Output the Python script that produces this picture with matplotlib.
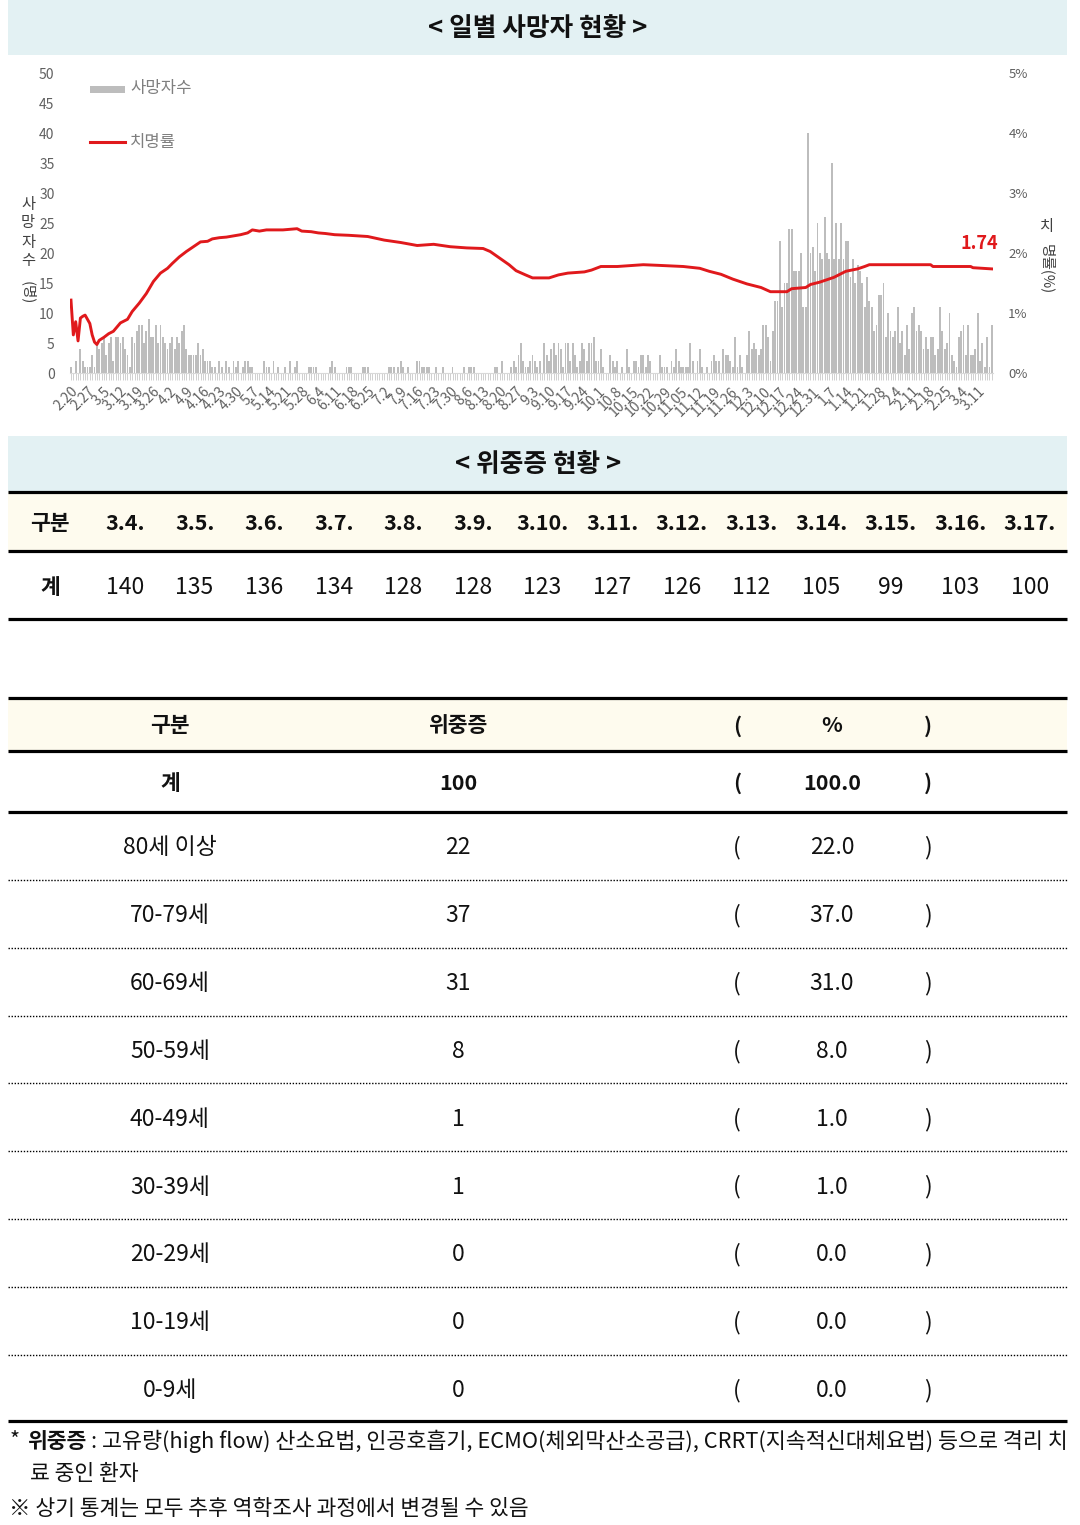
import matplotlib
matplotlib.use("Agg")
import matplotlib.pyplot as plt
import numpy as np
import pandas as pd
from matplotlib.patches import Rectangle

plt.rcParams['font.family'] = ['Noto Sans CJK KR', 'DejaVu Sans']

# ---------------- data: daily deaths ----------------
deaths_2020_02 = [1, 0, 2, 0, 4, 2, 1, 1, 1, 3]
deaths_2020_03 = [1, 5, 4, 5, 6, 3, 5, 6, 2, 6, 6, 5, 6, 4, 3, 1, 6, 5, 7, 8,
                  8, 5, 7, 9, 6, 6, 8, 5, 8, 6, 5]
deaths_2020_04 = [4, 5, 6, 4, 6, 5, 7, 8, 4, 3, 3, 3, 3, 5, 3, 4, 2, 2, 2, 1,
                  1, 0, 2, 1, 0, 2, 1, 0, 2, 1]
deaths_2020_05 = [2, 0, 1, 2, 2, 1, 1, 0, 0, 0, 0, 2, 1, 1, 0, 2, 0, 1, 0, 0,
                  1, 0, 2, 0, 1, 2, 0, 0, 0, 0, 1]
deaths_2020_06 = [1, 1, 1, 0, 0, 0, 0, 0, 1, 2, 1, 0, 0, 0, 0, 1, 1, 1, 0, 0,
                  0, 0, 1, 1, 1, 0, 0, 0, 0, 0]
deaths_2020_07 = [0, 0, 0, 1, 1, 1, 0, 1, 2, 1, 0, 1, 0, 0, 0, 2, 2, 1, 1, 1,
                  1, 0, 0, 1, 0, 0, 1, 0, 0, 0, 1]
deaths_2020_08 = [0, 0, 0, 0, 1, 0, 1, 1, 1, 0, 0, 0, 0, 0, 0, 0, 0, 1, 1, 0,
                  2, 0, 0, 0, 1, 2, 1, 3, 5, 2, 1]
deaths_2020_09 = [1, 2, 3, 2, 1, 2, 0, 5, 3, 2, 4, 5, 3, 5, 4, 1, 5, 5, 2, 5,
                  3, 1, 2, 5, 4, 2, 5, 5, 6, 2]
deaths_2020_10 = [2, 4, 1, 0, 0, 3, 2, 1, 2, 0, 1, 0, 4, 1, 0, 2, 2, 1, 3, 3,
                  1, 3, 2, 0, 0, 0, 3, 1, 1, 1, 0]
deaths_2020_11 = [2, 1, 4, 2, 1, 1, 1, 1, 5, 2, 0, 2, 4, 1, 0, 1, 0, 2, 3, 2,
                  2, 0, 4, 3, 3, 2, 1, 6, 1, 3]
deaths_2020_12 = [1, 0, 3, 7, 4, 5, 4, 3, 4, 8, 8, 6, 2, 7, 12, 12, 22, 11, 15, 15,
                  24, 24, 17, 17, 17, 20, 11, 11, 40, 20, 21]
deaths_2021_01 = [17, 25, 20, 19, 26, 20, 19, 35, 19, 25, 19, 25, 19, 22, 22, 16, 19, 15, 18, 17,
                  15, 11, 16, 12, 11, 7, 8, 13, 13, 15, 6]
deaths_2021_02 = [10, 7, 6, 7, 11, 5, 7, 3, 8, 4, 10, 11, 7, 8, 7, 4, 6, 4, 6, 6,
                  3, 4, 11, 7, 4, 5, 10, 3]
deaths_2021_03 = [2, 1, 6, 7, 8, 3, 8, 3, 3, 4, 10, 2, 5, 1, 6, 1, 8]

first_day = "2020-02-20"
last_day = "2021-03-17"

# fatality rate (%) read at these dates
cfr_dates = ["2020-02-20", "2020-02-21", "2020-02-22", "2020-02-23", "2020-02-24", "2020-02-25",
             "2020-02-26", "2020-02-27", "2020-02-28", "2020-02-29", "2020-03-01", "2020-03-02",
             "2020-03-03", "2020-03-05", "2020-03-07", "2020-03-09", "2020-03-12", "2020-03-15",
             "2020-03-17", "2020-03-20", "2020-03-23", "2020-03-26", "2020-03-29", "2020-04-01",
             "2020-04-03", "2020-04-06", "2020-04-09", "2020-04-12", "2020-04-15", "2020-04-18",
             "2020-04-20", "2020-04-23", "2020-04-26", "2020-04-29", "2020-05-02", "2020-05-05",
             "2020-05-07", "2020-05-10", "2020-05-13", "2020-05-20", "2020-05-26", "2020-05-28",
             "2020-06-01", "2020-06-04", "2020-06-07", "2020-06-11", "2020-06-17", "2020-06-25",
             "2020-07-02", "2020-07-09", "2020-07-16", "2020-07-23", "2020-07-30", "2020-08-06",
             "2020-08-13", "2020-08-16", "2020-08-20", "2020-08-24", "2020-08-27", "2020-08-31",
             "2020-09-03", "2020-09-10", "2020-09-14", "2020-09-18", "2020-09-25", "2020-09-28",
             "2020-10-02", "2020-10-09", "2020-10-20", "2020-10-26", "2020-11-06", "2020-11-13",
             "2020-11-17", "2020-11-22", "2020-11-27", "2020-12-03", "2020-12-09", "2020-12-13",
             "2020-12-20", "2020-12-22", "2020-12-28", "2020-12-30", "2021-01-03", "2021-01-09",
             "2021-01-14", "2021-01-19", "2021-01-22", "2021-01-24", "2021-02-19", "2021-02-20",
             "2021-03-08", "2021-03-09", "2021-03-17"]
cfr_pct = [1.22, 0.64, 0.86, 0.54, 0.92, 0.95, 0.97, 0.90, 0.83, 0.64, 0.52, 0.48,
           0.55, 0.60, 0.66, 0.70, 0.84, 0.90, 1.03, 1.17, 1.33, 1.53, 1.67, 1.75,
           1.83, 1.94, 2.03, 2.11, 2.19, 2.20, 2.24, 2.26, 2.27, 2.29, 2.31, 2.34,
           2.39, 2.37, 2.39, 2.39, 2.41, 2.37, 2.36, 2.34, 2.33, 2.31, 2.30, 2.28,
           2.22, 2.18, 2.13, 2.15, 2.11, 2.09, 2.08, 2.03, 1.92, 1.81, 1.71, 1.64,
           1.59, 1.59, 1.64, 1.67, 1.69, 1.72, 1.78, 1.78, 1.81, 1.80, 1.78, 1.75,
           1.70, 1.65, 1.57, 1.49, 1.43, 1.36, 1.36, 1.41, 1.43, 1.48, 1.52, 1.60,
           1.70, 1.74, 1.78, 1.81, 1.81, 1.78, 1.78, 1.76, 1.74]

x_tick_labels = ['2.20', '2.27', '3.5', '3.12', '3.19', '3.26', '4.2', '4.9', '4.16', '4.23',
                 '4.30', '5.7', '5.14', '5.21', '5.28', '6.4', '6.11', '6.18', '6.25', '7.2',
                 '7.9', '7.16', '7.23', '7.30', '8.6', '8.13', '8.20', '8.27', '9.3', '9.10',
                 '9.17', '9.24', '10.1', '10.8', '10.15', '10.22', '10.29', '11.05', '11.12',
                 '11.19', '11.26', '12.3', '12.10', '12.17', '12.24', '12.31', '1.7', '1.14',
                 '1.21', '1.28', '2.4', '2.11', '2.18', '2.25', '3.4', '3.11']
left_ticks = [0, 5, 10, 15, 20, 25, 30, 35, 40, 45, 50]
right_ticks = [0, 1, 2, 3, 4, 5]

# severe cases tables
severe_dates = ['3.4.', '3.5.', '3.6.', '3.7.', '3.8.', '3.9.', '3.10.', '3.11.', '3.12.',
                '3.13.', '3.14.', '3.15.', '3.16.', '3.17.']
severe_counts = [140, 135, 136, 134, 128, 128, 123, 127, 126, 112, 105, 99, 103, 100]
severe_total = 100
severe_total_pct = 100.0
age_groups = ['80세 이상', '70-79세', '60-69세', '50-59세', '40-49세', '30-39세',
              '20-29세', '10-19세', '0-9세']
age_counts = [22, 37, 31, 8, 1, 1, 0, 0, 0]
age_pcts = [22.0, 37.0, 31.0, 8.0, 1.0, 1.0, 0.0, 0.0, 0.0]

# ---------------- figure ----------------
W, H = 1080, 1525
fig = plt.figure(figsize=(W / 100, H / 100), dpi=100)
bg = fig.add_axes([0, 0, 1, 1])
bg.set_xlim(0, W)
bg.set_ylim(H, 0)
bg.axis('off')

BAND = '#e3f1f3'
CREAM = '#fefbee'
TXT = '#111111'
RED = '#e0191c'
TICKC = '#606060'
REG = 16.5   # regular table text
BLD = 15.5   # bold table text
DY = 2       # small vertical nudge for CJK text


def frac_rect(x0, y0, x1, y1):
    return [x0 / W, 1 - y1 / H, (x1 - x0) / W, (y1 - y0) / H]


# title bands
bg.add_patch(Rectangle((8, 0), 1059, 55, color=BAND, lw=0, zorder=0))
bg.text(538, 27 + DY, '< 일별 사망자 현황 >', ha='center', va='center', fontsize=18.5,
        fontweight='bold', color=TXT)
bg.add_patch(Rectangle((8, 436), 1059, 55, color=BAND, lw=0, zorder=0))
bg.text(538, 463 + DY, '< 위중증 현황 >', ha='center', va='center', fontsize=18.5,
        fontweight='bold', color=TXT)

# ---------------- chart ----------------
deaths = np.array(deaths_2020_02 + deaths_2020_03 + deaths_2020_04 + deaths_2020_05 +
                  deaths_2020_06 + deaths_2020_07 + deaths_2020_08 + deaths_2020_09 +
                  deaths_2020_10 + deaths_2020_11 + deaths_2020_12 + deaths_2021_01 +
                  deaths_2021_02 + deaths_2021_03)
days = pd.date_range(first_day, last_day, freq='D')
assert len(days) == len(deaths)
start = pd.Timestamp(first_day)
day_idx = np.arange(len(days))
cfr_x = np.array((pd.to_datetime(cfr_dates) - start).days)

ax = fig.add_axes(frac_rect(69.8, 73.3, 993.0, 373.3))
ax.patch.set_alpha(0)
ax.bar(day_idx, deaths, width=0.78, color='#bdbdbd', linewidth=0, zorder=2)
ax.set_xlim(-0.5, len(days) - 0.5)
ax.set_ylim(left_ticks[0], left_ticks[-1])
ax.set_yticks(left_ticks)
ax.set_yticklabels([str(v) for v in left_ticks])
for s in ['top', 'left', 'right']:
    ax.spines[s].set_visible(False)
ax.spines['bottom'].set_color('#d9d9d9')
ax.spines['bottom'].set_linewidth(0.8)
ax.set_xticks(day_idx[::7][:len(x_tick_labels)])
ax.set_xticklabels(x_tick_labels)
ax.set_xticks(day_idx, minor=True)
ax.tick_params(axis='x', which='both', direction='out', length=5, width=0.7, color='#d0d0d0')
ax.tick_params(axis='x', which='major', pad=3, labelsize=10, labelcolor=TICKC)
for lab in ax.get_xticklabels():
    lab.set_rotation(45)
    lab.set_ha('right')
    lab.set_va('top')
    lab.set_rotation_mode('anchor')
ax.tick_params(axis='y', length=0, pad=11, labelsize=10, labelcolor=TICKC)

ax2 = ax.twinx()
ax2.patch.set_alpha(0)
ax2.set_ylim(right_ticks[0], right_ticks[-1])
ax2.set_yticks(right_ticks)
ax2.set_yticklabels([f'{v}%' for v in right_ticks])
for s in ['top', 'left', 'right', 'bottom']:
    ax2.spines[s].set_visible(False)
ax2.tick_params(axis='y', length=0, pad=11, labelsize=9.5, labelcolor=TICKC)
ax2.plot(cfr_x, cfr_pct, color=RED, lw=2.1, solid_joinstyle='round', zorder=5)
ax2.annotate(f'{cfr_pct[-1]:.2f}', xy=(cfr_x[-1], cfr_pct[-1]), xytext=(-9, 18),
             textcoords='offset points', ha='center', va='center', fontsize=13,
             fontweight='bold', color=RED)

# legend
bg.add_patch(Rectangle((90, 85.5), 35, 7, color='#bdbdbd', lw=0))
bg.text(130, 89, '사망자수', ha='left', va='center', fontsize=12, color='#7f7f7f')
bg.plot([90, 125], [142, 142], color=RED, lw=2.2)
bg.text(130, 142, '치명률', ha='left', va='center', fontsize=12, color='#7f7f7f')

# axis titles (stacked vertical text)
for ch, yy in zip('사망자수', [204, 223, 242, 261]):
    bg.text(28, yy, ch, ha='center', va='center', fontsize=11, color='#404040')
bg.text(28, 293, '(명)', ha='center', va='center', fontsize=10.5, rotation=-90, color='#404040')
bg.text(1047, 226, '치', ha='center', va='center', fontsize=11, color='#404040')
bg.text(1047, 269, '명률(%)', ha='center', va='center', fontsize=10.5, rotation=-90,
        color='#404040')

# ---------------- table 1 ----------------
THICK = 2.3
bg.add_patch(Rectangle((8, 492), 1059, 59, color=CREAM, lw=0, zorder=0))
for yy in [492, 551, 619]:
    bg.plot([8, 1067], [yy, yy], color='black', lw=THICK, solid_capstyle='butt')
bg.text(50, 522 + DY, '구분', ha='center', va='center', fontsize=BLD, fontweight='bold', color=TXT)
bg.text(50, 586 + DY, '계', ha='center', va='center', fontsize=BLD, fontweight='bold', color=TXT)
for i, (d, c) in enumerate(zip(severe_dates, severe_counts)):
    cx = 125 + i * 69.6
    bg.text(cx, 522 + DY, d, ha='center', va='center', fontsize=BLD, fontweight='bold', color=TXT)
    bg.text(cx, 586 + DY, str(c), ha='center', va='center', fontsize=REG, color=TXT)

# ---------------- table 2 ----------------
cols = [170, 458, 737, 832, 928]
bg.add_patch(Rectangle((8, 698), 1059, 53, color=CREAM, lw=0, zorder=0))
for yy in [698, 751, 812, 1421]:
    bg.plot([8, 1067], [yy, yy], color='black', lw=THICK, solid_capstyle='butt')
for txt, cx in zip(['구분', '위중증', '(', '%', ')'], cols):
    bg.text(cx, 724 + DY, txt, ha='center', va='center', fontsize=BLD, fontweight='bold',
            color=TXT)
for txt, cx in zip(['계', str(severe_total), '(', f'{severe_total_pct:.1f}', ')'], cols):
    bg.text(cx, 781 + DY, txt, ha='center', va='center', fontsize=BLD, fontweight='bold',
            color=TXT)
for k, (g, c, p) in enumerate(zip(age_groups, age_counts, age_pcts)):
    yy = 846 + k * 67.8
    for txt, cx in zip([g, str(c), '(', f'{p:.1f}', ')'], cols):
        bg.text(cx, yy + DY, txt, ha='center', va='center', fontsize=REG, color=TXT)
    if k < len(age_groups) - 1:
        bg.plot([8, 1067], [yy + 34, yy + 34], color='black', lw=1.0,
                linestyle=(0, (1, 1.2)))

# ---------------- footnotes ----------------
renderer = fig.canvas.get_renderer()
FS = 15.5
bg.text(10, 1441, '*', ha='left', va='center', fontsize=FS, color=TXT)
x = 27
t = bg.text(x, 1441, '위중증', ha='left', va='center', fontsize=FS, fontweight='bold', color=TXT)
x += t.get_window_extent(renderer=renderer).width + 5
rest = ': 고유량(high flow) 산소요법, 인공호흡기, ECMO(체외막산소공급), CRRT(지속적신대체요법) 등으로 격리 치'
t = bg.text(x, 1441, rest, ha='left', va='center', fontsize=FS, color=TXT)
w = t.get_window_extent(renderer=renderer).width
t.set_fontsize(FS * (1067 - x) / w)
bg.text(30, 1474, '료 중인 환자', ha='left', va='center', fontsize=FS, color=TXT)
bg.text(9, 1509, '※ 상기 통계는 모두 추후 역학조사 과정에서 변경될 수 있음', ha='left',
        va='center', fontsize=FS, color=TXT)

fig.savefig('out.png', dpi=100)
